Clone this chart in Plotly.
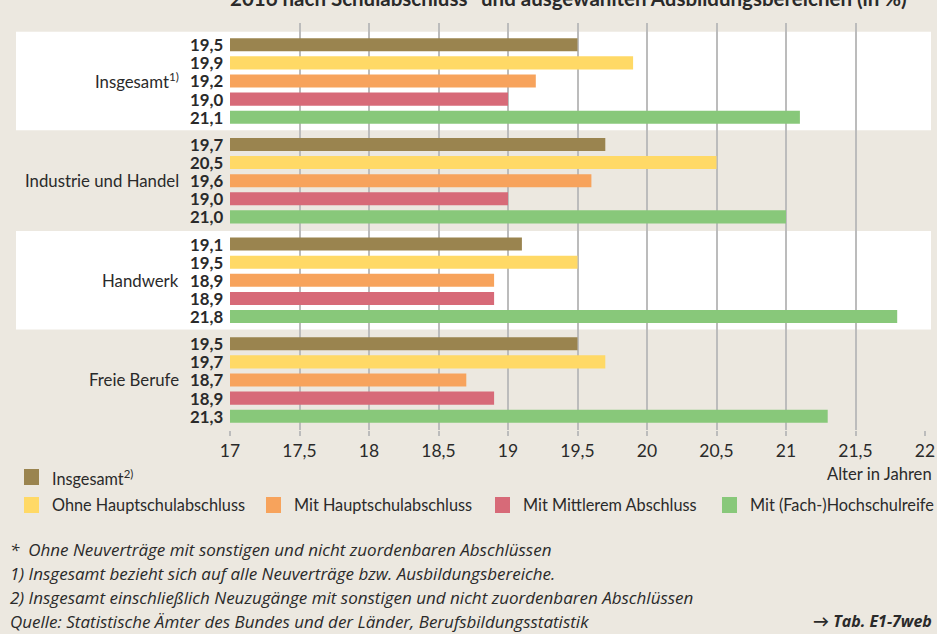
import plotly.graph_objects as go

# Ausbildungsbereiche (Gruppen, von oben nach unten)
bereiche = ["Insgesamt<sup>1)</sup>", "Industrie und Handel", "Handwerk", "Freie Berufe"]

# Schulabschluss-Reihen
reihen = ["Insgesamt<sup>2)</sup>", "Ohne Hauptschulabschluss", "Mit Hauptschulabschluss",
          "Mit Mittlerem Abschluss", "Mit (Fach-)Hochschulreife"]
farben = ["#9a844f", "#ffd966", "#f7a35c", "#d76a78", "#88c87a"]

# Durchschnittsalter je Reihe, eine Zahl je Bereich
insgesamt = [19.5, 19.7, 19.1, 19.5]
ohne_hs = [19.9, 20.5, 19.5, 19.7]
mit_hs = [19.2, 19.6, 18.9, 18.7]
mittlerer = [19.0, 19.0, 18.9, 18.9]
hochschulreife = [21.1, 21.0, 21.8, 21.3]
werte = [insgesamt, ohne_hs, mit_hs, mittlerer, hochschulreife]

tick_vals = [17, 17.5, 18, 18.5, 19, 19.5, 20, 20.5, 21, 21.5, 22]
tick_text = ["17", "17,5", "18", "18,5", "19", "19,5", "20", "20,5", "21", "21,5", "22"]

fussnoten = [
    "*  Ohne Neuverträge mit sonstigen und nicht zuordenbaren Abschlüssen",
    "1) Insgesamt bezieht sich auf alle Neuverträge bzw. Ausbildungsbereiche.",
    "2) Insgesamt einschließlich Neuzugänge mit sonstigen und nicht zuordenbaren Abschlüssen",
    "Quelle: Statistische Ämter des Bundes und der Länder, Berufsbildungsstatistik",
]

W, H = 937, 634
L, R, T, B = 230, 12, 23, 204
PW, PH = W - L - R, H - T - B
BG = "#ece8e0"
FONT = "Lato, Open Sans, sans-serif"
FONT_FN = "Open Sans, Lato, sans-serif"
TXT = "#2a2a2a"
PITCH = 5.5


def px(x):
    return (x - L) / PW


def py(y):
    return (H - B - y) / PH


def pos(g, i):
    return g * PITCH + i


fig = go.Figure()
anns = []

for i, name in enumerate(reihen):
    ys = [pos(g, i) for g in range(len(bereiche))]
    fig.add_trace(go.Bar(
        x=werte[i], y=ys, orientation="h", width=0.72,
        marker=dict(color=farben[i], line=dict(width=0)),
        name=name, showlegend=False, hoverinfo="x",
    ))
    # Werte links neben der Achse
    for y, v in zip(ys, werte[i]):
        anns.append(dict(xref="paper", yref="y", x=0, y=y, xshift=-6,
                         text="<b>" + f"{v:.1f}".replace(".", ",") + "</b>",
                         xanchor="right", yanchor="middle", showarrow=False,
                         borderpad=0, font=dict(family=FONT, size=16.8, color=TXT)))

# Abwechselnde Hintergrundbänder
for g in range(len(bereiche)):
    if g % 2 == 0:
        c = pos(g, 2)
        fig.add_shape(type="rect", xref="paper", yref="y", x0=px(16), x1=px(931),
                      y0=c - 2.72, y1=c + 2.72, fillcolor="white", line_width=0,
                      layer="below")

for g, b in enumerate(bereiche):
    anns.append(dict(xref="paper", yref="y", x=px(181), y=pos(g, 2), text=b,
                     xanchor="right", yanchor="middle", showarrow=False,
                     font=dict(family=FONT, size=16.8, color=TXT)))

# Legende von Hand
leg = [(24, 477, 0), (24, 505, 1), (266, 505, 2), (495, 505, 3), (722, 505, 4)]
for x0, yc, i in leg:
    fig.add_shape(type="rect", xref="paper", yref="paper", x0=px(x0), x1=px(x0 + 15),
                  y0=py(yc + 8), y1=py(yc - 8), fillcolor=farben[i], line_width=0)
    anns.append(dict(xref="paper", yref="paper", x=px(x0 + 26), y=py(yc), text=reihen[i],
                     xanchor="left", yanchor="middle", showarrow=False,
                     font=dict(family=FONT, size=16.3, color=TXT)))

anns.append(dict(xref="paper", yref="paper", x=px(934), y=py(474), text="Alter in Jahren",
                 xanchor="right", yanchor="middle", showarrow=False,
                 font=dict(family=FONT, size=16.6, color=TXT)))

for k, f in enumerate(fussnoten):
    anns.append(dict(xref="paper", yref="paper", x=px(8), y=py(549 + 24 * k), text="<i>" + f + "</i>",
                     xanchor="left", yanchor="middle", showarrow=False,
                     font=dict(family=FONT_FN, size=17, color=TXT)))
anns.append(dict(xref="paper", yref="paper", x=px(934), y=py(621), text="<b><i>→ Tab. E1-7web</i></b>",
                 xanchor="right", yanchor="middle", showarrow=False,
                 font=dict(family=FONT_FN, size=16, color=TXT)))

# Titel, oben angeschnitten
anns.append(dict(xref="paper", yref="paper", x=px(568), y=py(-2),
                 text="<b>2016 nach Schulabschluss* und ausgewählten Ausbildungsbereichen (in %)</b>",
                 xanchor="center", yanchor="middle", showarrow=False,
                 font=dict(family=FONT, size=20.5, color=TXT)))

fig.update_layout(
    width=W, height=H, margin=dict(l=L, r=R, t=T, b=B, autoexpand=False),
    autosize=False,
    paper_bgcolor=BG, plot_bgcolor="rgba(0,0,0,0)",
    barmode="overlay", separators=",.",
    annotations=anns,
    xaxis=dict(range=[17, 22], tickvals=tick_vals, ticktext=tick_text, automargin=False,
               showgrid=True, gridcolor="#bcbcbc", gridwidth=1.5, zeroline=False,
               ticks="outside", ticklen=5, tickcolor="#bcbcbc", tickwidth=1.5,
               tickfont=dict(family=FONT, size=17.5, color=TXT), fixedrange=True),
    yaxis=dict(range=[21.26, -1.2], showticklabels=False, showgrid=False, automargin=False,
               zeroline=False, fixedrange=True),
)

fig.write_html("out.html", config={"responsive": False, "displayModeBar": False},
               post_script="document.body.style.margin='0';document.body.style.overflow='hidden';")
